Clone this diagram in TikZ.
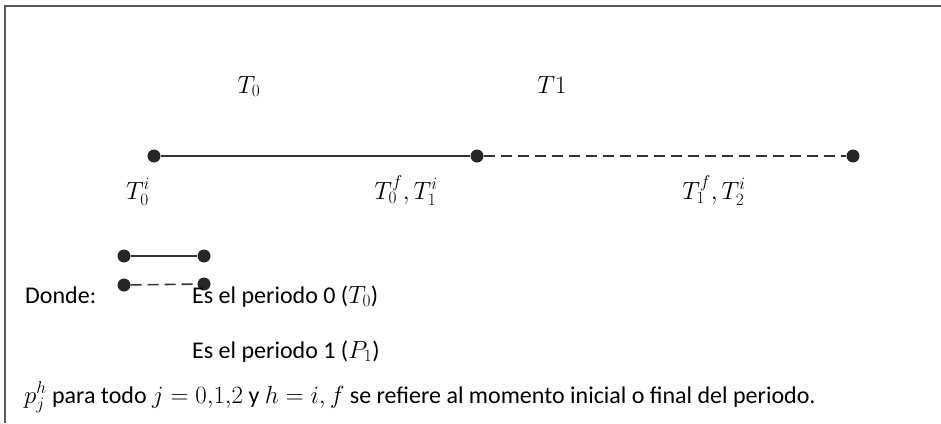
\documentclass[tikz,border=0pt]{standalone}
\usepackage{fontspec}
\setmainfont{Carlito}
\begin{document}
\begin{tikzpicture}[x=1pt,y=-1pt,
  dotnode/.style={circle,fill=black!85,inner sep=0pt,minimum size=13pt},
  solidseg/.style={draw=black!80,line width=1.6pt},
  dashseg/.style={draw=black!80,line width=1.6pt,dash pattern=on 11pt off 6pt},
  lbl/.style={inner sep=0pt,font=\fontsize{24}{28}\selectfont},
  frameline/.style={draw=black!65,line width=2pt}]
\useasboundingbox (0,0) rectangle (941,423);
\coordinate (fa) at (5,6);
\coordinate (fb) at (941,6);
\coordinate (fc) at (5,423);
\draw[frameline] (fc) -- (fa) -- (fb);
% titles
\node[lbl,anchor=base] (t0) at (249,93) {$T_0$};
\node[lbl,anchor=base] (t1) at (552,93) {$T1$};
% timeline
\node[dotnode] (p0) at (154,156) {};
\node[dotnode] (p1) at (477,156) {};
\node[dotnode] (p2) at (853,156) {};
\draw[solidseg] (p0) -- (p1);
\draw[dashseg] (p1) -- (p2);
\node[lbl,anchor=base] (l0) at (138,199) {$T_0^i$};
\node[lbl,anchor=base] (l1) at (406,199) {$T_0^f,T_1^i$};
\node[lbl,anchor=base] (l2) at (714,199) {$T_1^f,T_2^i$};
% legend
\node[dotnode] (a1) at (124,256) {};
\node[dotnode] (a2) at (204,256) {};
\draw[solidseg] (a1) -- (a2);
\node[dotnode] (b1) at (124,285) {};
\node[dotnode] (b2) at (204,284) {};
\draw[dashseg] (b1) -- (b2);
\node[lbl,anchor=base west] (donde) at (25,303) {Donde:};
\node[lbl,anchor=base west] (e0) at (192,303) {Es el periodo 0 ($T_0$)};
\node[lbl,anchor=base west] (e1) at (192,358) {Es el periodo 1 ($P_1$)};
\node[lbl,anchor=base west] (note) at (24,403) {$p_j^h$ para todo $j=0{,}1{,}2$ y $h=i,f$ se refiere al momento inicial o final del periodo.};
\end{tikzpicture}
\end{document}
